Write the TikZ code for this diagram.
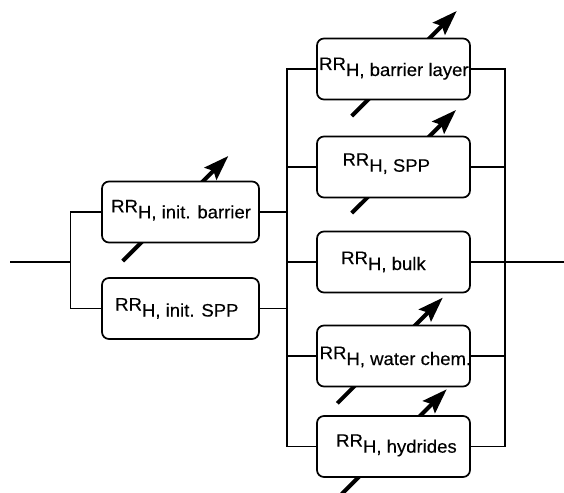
\documentclass[tikz,border=0pt]{standalone}
\usepackage{fontspec}
\setmainfont{Liberation Sans}[FakeStretch=1.03,FakeBold=0.3]
\usetikzlibrary{arrows.meta}
\begin{document}
\begin{tikzpicture}[x=1pt,y=-1pt,
  box/.style={draw, line width=1.7pt, rounded corners=7pt, fill=white, minimum height=61pt, inner sep=0pt},
  lbox/.style={box, minimum width=157pt},
  rbox/.style={box, minimum width=153pt},
  wire/.style={line width=1.5pt},
  lbl/.style={anchor=base west, inner sep=0pt, font=\fontsize{18pt}{20pt}\selectfont},
  var/.style={line width=4pt, -{Stealth[length=25pt,width=17pt,inset=4pt]}}
]
\useasboundingbox (0,0) rectangle (564,492);
% wiring
\coordinate (in) at (10,262);
\coordinate (jl) at (70.5,262);
\coordinate (jm) at (287,262);
\coordinate (jr) at (505,262);
\coordinate (out) at (564,262);
% variable arrows (behind boxes)
\coordinate (a1s) at (122.7,261); \coordinate (a1e) at (228.3,156);
\coordinate (a2s) at (351.7,116); \coordinate (a2e) at (456.7,11);
\coordinate (a3s) at (351.7,213); \coordinate (a3e) at (456,110);
\coordinate (a4s) at (337.3,403.3); \coordinate (a4e) at (442.7,297.7);
\coordinate (a5s) at (341.7,494); \coordinate (a5e) at (446.7,389.3);
\foreach \i in {1,...,5} \draw[var] (a\i s) -- (a\i e);
% boxes
\node[lbox] (b1) at (180.5,212) {};
\node[lbox] (b2) at (180.5,308.5) {};
\node[rbox] (r1) at (393.5,69) {};
\node[rbox] (r2) at (393.5,167) {};
\node[rbox] (r3) at (393.5,262) {};
\node[rbox] (r4) at (393.5,356) {};
\node[rbox] (r5) at (393.5,446.5) {};
\draw[wire] (in) -- (jl);
\draw[wire] (b1.west) -| (jl) |- (b2.west);
\draw[wire] (b1.east) -- (b1.east -| jm);
\draw[wire] (b2.east) -- (b2.east -| jm);
\draw[wire] (r1.west) -| (jm) |- (r5.west);
\draw[wire] (r2.west) -- (r2.west -| jm);
\draw[wire] (r3.west) -- (jm);
\draw[wire] (r4.west) -- (r4.west -| jm);
\draw[wire] (r1.east) -| (jr) |- (r5.east);
\draw[wire] (r2.east) -- (r2.east -| jr);
\draw[wire] (r3.east) -- (jr);
\draw[wire] (r4.east) -- (r4.east -| jr);
\draw[wire] (jr) -- (out);
% labels
\node[lbl] (t1) at (111,218.3) {\raisebox{6pt}{RR}H, init. barrier};
\node[lbl] (t2) at (115,316.5) {\raisebox{6pt}{RR}H, init. SPP};
\node[lbl] (t3) at (319,76) {\raisebox{6pt}{RR}H, barrier layer};
\node[lbl] (t4) at (342.3,171.7) {\raisebox{6pt}{RR}H, SPP};
\node[lbl] (t5) at (341,270) {\raisebox{6pt}{RR}H, bulk};
\node[lbl] (t6) at (319.5,365) {\raisebox{6pt}{RR}H, water chem.};
\node[lbl] (t7) at (336,452.7) {\raisebox{6pt}{RR}H, hydrides};
\end{tikzpicture}
\end{document}
